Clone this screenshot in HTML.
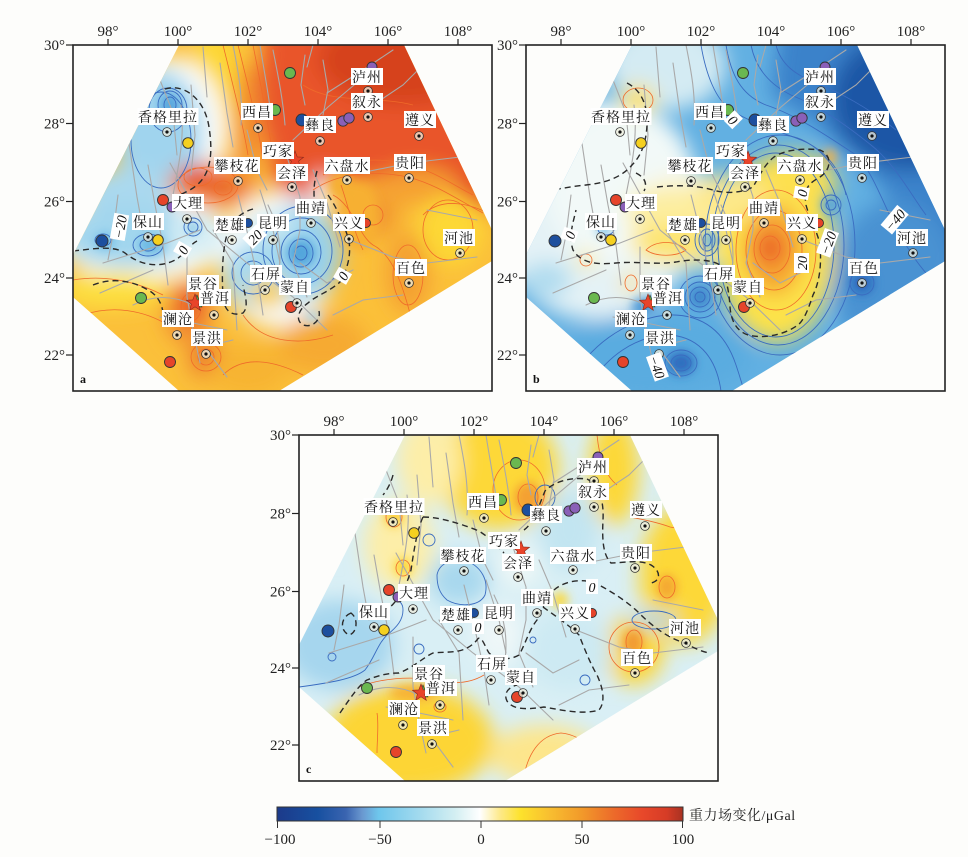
<!DOCTYPE html>
<html><head><meta charset="utf-8">
<style>
html,body{margin:0;padding:0;background:#fdfdfb;}
svg{display:block;}
.tk{font-family:"Liberation Serif","Noto Serif CJK SC",serif;font-size:15px;fill:#222;}
.lt{font-family:"Liberation Serif","Noto Serif CJK SC",serif;font-size:14px;fill:#111;letter-spacing:1px;}
.cl{font-family:"Liberation Serif",serif;font-size:14px;fill:#111;font-style:italic;}
.pl{font-family:"Liberation Serif",serif;font-size:12px;font-weight:bold;fill:#111;}
.dz{fill:none;stroke:#2a2a2a;stroke-width:1.4;stroke-dasharray:6 4;}
.oc{fill:none;stroke:#ef6a2a;stroke-width:0.8;}
.bc{fill:none;stroke:#3a6cc0;stroke-width:0.9;}
</style></head>
<body>
<svg width="968" height="857" viewBox="0 0 968 857" xmlns="http://www.w3.org/2000/svg">
<defs>
<clipPath id="cp"><polygon points="106,0 331,0 419,185 419,216 206,346 106,346 0,252 0,210"/></clipPath>
<filter id="b1" filterUnits="userSpaceOnUse" x="-80" y="-80" width="580" height="510"><feGaussianBlur stdDeviation="10"/></filter>
<filter id="b2" filterUnits="userSpaceOnUse" x="-80" y="-80" width="580" height="510"><feGaussianBlur stdDeviation="5"/></filter>
<linearGradient id="cb" x1="0" x2="1" y1="0" y2="0">
<stop offset="0" stop-color="#1c3a8a"/>
<stop offset="0.10" stop-color="#1750a0"/>
<stop offset="0.17" stop-color="#3a64b0"/>
<stop offset="0.21" stop-color="#6a98d0"/>
<stop offset="0.25" stop-color="#6ec6ec"/>
<stop offset="0.35" stop-color="#a2daee"/>
<stop offset="0.44" stop-color="#d4eff2"/>
<stop offset="0.50" stop-color="#ffffff"/>
<stop offset="0.55" stop-color="#fde988"/>
<stop offset="0.60" stop-color="#fde22c"/>
<stop offset="0.67" stop-color="#f8bf30"/>
<stop offset="0.75" stop-color="#f29a2a"/>
<stop offset="0.83" stop-color="#ec6a2a"/>
<stop offset="0.90" stop-color="#e8482a"/>
<stop offset="0.96" stop-color="#d63c26"/>
<stop offset="1" stop-color="#a83222"/>
</linearGradient>
<g id="faults" fill="none" stroke="#a9a9a9" stroke-width="1.1" stroke-linecap="round">
<path d="M187,0 C190,20 195,45 198,70"/>
<path d="M200,5 C205,30 210,55 212,80"/>
<path d="M232,10 L228,40 L232,60"/>
<path d="M250,15 L255,45 L250,70"/>
<path d="M254,48 L290,25 L320,5"/>
<path d="M220,95 L255,62 L287,35"/>
<path d="M130,2 L134,52"/>
<path d="M147,18 L154,68 L160,102"/>
<path d="M174,85 L184,125 L194,145"/>
<path d="M87,35 L100,68 L104,110"/>
<path d="M97,118 L134,185 L174,218 L220,252 L254,285"/>
<path d="M54,85 L64,152 L70,185"/>
<path d="M30,218 L94,198 L127,185"/>
<path d="M27,248 L80,225"/>
<path d="M114,202 L114,252 L120,285 L127,318"/>
<path d="M140,185 L160,218 L164,285"/>
<path d="M187,145 L200,185 L207,218"/>
<path d="M214,112 L227,152 L227,185 L220,218 L234,252"/>
<path d="M240,125 L254,158 L267,202"/>
<path d="M287,128 L337,118 L387,112 L417,105"/>
<path d="M277,195 L320,212 L354,218 L404,212"/>
<path d="M354,165 L404,175"/>
<path d="M227,218 L254,238 L280,225"/>
<path d="M87,272 L120,278 L154,285"/>
<path d="M120,292 L147,298 L160,295"/>
<path d="M134,305 L154,332"/>
<path d="M234,22 L240,0"/>
<path d="M118,40 L122,90 L118,130"/>
<path d="M75,120 L82,160 L90,200 L95,240"/>
<path d="M165,150 L175,190 L185,235 L190,270"/>
<path d="M300,60 L330,40 L350,20"/>
<path d="M260,270 L290,255 L330,250"/>
<path d="M160,0 C165,25 170,50 168,80"/>
<path d="M108,60 C112,90 106,120 100,150"/>
<path d="M45,150 L40,190 L35,215"/>
<path d="M195,160 C205,180 210,205 205,230"/>
<path d="M60,260 C80,250 100,250 120,260"/>
</g>
<g id="star"><polygon points="0,-9 2.23,-3.07 8.56,-2.78 3.61,1.17 5.29,7.28 0,3.8 -5.29,7.28 -3.61,1.17 -8.56,-2.78 -2.23,-3.07" fill="#e8442a" stroke="#8a2a1a" stroke-width="0.6"/></g>
<g id="stn"><circle r="4.4" fill="#eeeede" fill-opacity="0.75" stroke="#333" stroke-width="0.8"/><circle r="1.6" fill="#111"/></g>
<g id="marks">
<g stroke="#333" stroke-width="0.9">
<circle cx="217" cy="28" r="5.5" fill="#6ab850"/>
<circle cx="202" cy="65" r="5.5" fill="#6ab850"/>
<circle cx="229" cy="75" r="6" fill="#1d4f9e"/>
<circle cx="270" cy="76" r="5.2" fill="#8a60b8"/>
<circle cx="276" cy="73" r="5.2" fill="#8a60b8"/>
<circle cx="299" cy="22" r="5" fill="#8a60b8"/>
<circle cx="115" cy="98" r="5.3" fill="#f5d020"/>
<circle cx="90" cy="155" r="5.5" fill="#e6442a"/>
<circle cx="99" cy="162" r="5" fill="#8a60b8"/>
<circle cx="85" cy="195" r="5.3" fill="#f5d020"/>
<circle cx="29" cy="196" r="6" fill="#1d4f9e"/>
<circle cx="68" cy="253" r="5.5" fill="#6ab850"/>
<circle cx="218" cy="262" r="5.5" fill="#e6442a"/>
<circle cx="97" cy="317" r="5.5" fill="#e6442a"/>
<circle cx="175" cy="178" r="4.5" fill="#1d4f9e"/>
<circle cx="293" cy="178" r="4.5" fill="#e6442a"/>
</g>
<use href="#stn" x="295" y="46"/><use href="#stn" x="295" y="72"/><use href="#stn" x="346" y="91"/>
<use href="#stn" x="185" y="83"/><use href="#stn" x="247" y="96"/><use href="#stn" x="94" y="87"/>
<use href="#stn" x="219" y="142"/><use href="#stn" x="165" y="136"/><use href="#stn" x="274" y="135"/>
<use href="#stn" x="336" y="133"/><use href="#stn" x="114" y="174"/><use href="#stn" x="75" y="192"/>
<use href="#stn" x="159" y="195"/><use href="#stn" x="200" y="195"/><use href="#stn" x="238" y="178"/>
<use href="#stn" x="276" y="194"/><use href="#stn" x="387" y="208"/><use href="#stn" x="192" y="245"/>
<use href="#stn" x="224" y="258"/><use href="#stn" x="336" y="238"/><use href="#stn" x="141" y="270"/>
<use href="#stn" x="104" y="290"/><use href="#stn" x="133" y="309"/>
<polygon points="118,262 124,250 129,262" fill="#5aa845" stroke="#333" stroke-width="0.6"/>
<use href="#star" x="222" y="115"/>
<use href="#star" x="122" y="258"/>
</g>
<g id="lbg" fill="#ffffff">
<rect x="278" y="23" width="32" height="17"/><rect x="278" y="48" width="32" height="17"/>
<rect x="331" y="66" width="32" height="17"/><rect x="168" y="58" width="32" height="17"/>
<rect x="231" y="71" width="32" height="17"/><rect x="64.5" y="63" width="61" height="17"/>
<rect x="189" y="97" width="32" height="17"/><rect x="203" y="119" width="32" height="17"/>
<rect x="141" y="112" width="46" height="17"/><rect x="251" y="112" width="46" height="17"/>
<rect x="321" y="109" width="32" height="17"/><rect x="99" y="149" width="32" height="17"/>
<rect x="59" y="168" width="32" height="17"/><rect x="141" y="171" width="32" height="17"/>
<rect x="184" y="169" width="32" height="17"/><rect x="222" y="154" width="32" height="17"/>
<rect x="260" y="169" width="32" height="17"/><rect x="370" y="184" width="32" height="17"/>
<rect x="177" y="220" width="32" height="17"/><rect x="206" y="233" width="32" height="17"/>
<rect x="322" y="214" width="32" height="17"/><rect x="114" y="230" width="32" height="17"/>
<rect x="126" y="244" width="32" height="17"/><rect x="89" y="265" width="32" height="17"/>
<rect x="118" y="284" width="32" height="17"/>
</g>
<g id="axes">
<rect x="0" y="0" width="419" height="346" fill="none" stroke="#222" stroke-width="1.6"/>
<g stroke="#222" stroke-width="1.2">
<line x1="35" y1="0" x2="35" y2="-6"/><line x1="105" y1="0" x2="105" y2="-6"/><line x1="175" y1="0" x2="175" y2="-6"/>
<line x1="245" y1="0" x2="245" y2="-6"/><line x1="315" y1="0" x2="315" y2="-6"/><line x1="385" y1="0" x2="385" y2="-6"/>
<line x1="0" y1="0" x2="-7" y2="0"/><line x1="0" y1="78.5" x2="-7" y2="78.5"/><line x1="0" y1="156.5" x2="-7" y2="156.5"/>
<line x1="0" y1="233" x2="-7" y2="233"/><line x1="0" y1="310" x2="-7" y2="310"/>
</g>
</g>
</defs>

<!-- ================= PANEL A ================= -->
<g transform="translate(73,45)">
<g clip-path="url(#cp)">
<rect x="-10" y="-10" width="440" height="370" fill="#fbc03a"/>
<g filter="url(#b1)">
<polygon points="192,-30 450,-30 450,178 400,160 360,140 320,130 285,135 255,140 240,170 210,172 198,120 186,50" fill="#e9552b"/>
<ellipse cx="330" cy="15" rx="85" ry="45" fill="#d6431f"/>
<ellipse cx="228" cy="150" rx="20" ry="22" fill="#e8552a"/>
<ellipse cx="140" cy="45" rx="24" ry="70" fill="#fdd835"/>
<ellipse cx="176" cy="70" rx="14" ry="55" fill="#f28a2e"/>
<ellipse cx="98" cy="90" rx="55" ry="78" fill="#fbfdfd"/>
<ellipse cx="86" cy="88" rx="44" ry="64" fill="#a0d4ee"/>
<ellipse cx="70" cy="192" rx="88" ry="44" fill="#f6fbfc"/>
<ellipse cx="55" cy="150" rx="45" ry="28" fill="#aad9ef"/>
<ellipse cx="55" cy="190" rx="68" ry="32" fill="#a2d6ee"/>
<ellipse cx="125" cy="190" rx="30" ry="22" fill="#d6eef5"/>
<ellipse cx="205" cy="215" rx="58" ry="68" fill="#f8fcfd"/>
<ellipse cx="249" cy="152" rx="8" ry="24" fill="#f8fcfd"/>
<ellipse cx="226" cy="208" rx="42" ry="48" fill="#98d2ee"/>
<ellipse cx="183" cy="230" rx="32" ry="34" fill="#a6d9ef"/>
<ellipse cx="200" cy="182" rx="25" ry="14" fill="#c8e8f2"/>
<ellipse cx="300" cy="165" rx="32" ry="30" fill="#f6a830"/>
<ellipse cx="345" cy="140" rx="40" ry="18" fill="#f5a030"/>
<ellipse cx="140" cy="140" rx="45" ry="22" fill="#f28a2e"/>
<ellipse cx="124" cy="132" rx="20" ry="13" fill="#e6502a"/>
<ellipse cx="152" cy="144" rx="13" ry="11" fill="#e8582a"/>
<ellipse cx="115" cy="268" rx="24" ry="32" fill="#f29030"/>
<ellipse cx="118" cy="260" rx="14" ry="18" fill="#e8542a"/>
<ellipse cx="135" cy="315" rx="22" ry="22" fill="#f29a30"/>
<ellipse cx="133" cy="312" rx="10" ry="10" fill="#e6502a"/>
<ellipse cx="300" cy="170" rx="14" ry="14" fill="#ee8530"/>
<ellipse cx="378" cy="185" rx="32" ry="35" fill="#fdd835"/>
<ellipse cx="335" cy="228" rx="22" ry="40" fill="#f4a030"/>
<ellipse cx="250" cy="300" rx="45" ry="30" fill="#f6aa30"/>
<ellipse cx="175" cy="325" rx="40" ry="25" fill="#f7b430"/>
<ellipse cx="40" cy="245" rx="55" ry="18" fill="#fde040"/>
<ellipse cx="195" cy="248" rx="18" ry="16" fill="#fcd040"/>
</g>
<g filter="url(#b2)">
<ellipse cx="97" cy="60" rx="11" ry="13" fill="#5aa8de"/>
<ellipse cx="78" cy="200" rx="13" ry="10" fill="#6cb9e4"/>
<ellipse cx="32" cy="196" rx="10" ry="8" fill="#72bde6"/>
<ellipse cx="228" cy="208" rx="14" ry="14" fill="#52a6dc"/>
<ellipse cx="120" cy="183" rx="6" ry="6" fill="#7cc2e6"/>
<ellipse cx="240" cy="272" rx="8" ry="6" fill="#b0dcef"/>
<ellipse cx="287" cy="172" rx="20" ry="34" fill="#f7b030"/>
<ellipse cx="268" cy="140" rx="12" ry="14" fill="#f6b030"/>
</g>
<g class="oc">
<path d="M150,0 C160,40 170,80 175,110"/><path d="M165,0 C175,40 185,80 190,115"/><path d="M180,0 C188,40 195,80 200,110"/>
<path d="M250,130 C270,115 300,112 330,118 C360,125 380,140 400,150"/>
<path d="M240,145 C265,128 300,125 335,132 C365,140 385,155 410,168"/>
<ellipse cx="125" cy="132" rx="14" ry="9"/><ellipse cx="150" cy="143" rx="9" ry="7"/><ellipse cx="135" cy="140" rx="30" ry="18"/>
<path d="M260,150 C280,160 285,190 300,200 C320,210 330,240 340,280"/>
<path d="M268,140 C275,160 280,185 290,205"/>
<ellipse cx="300" cy="170" rx="10" ry="10"/><ellipse cx="375" cy="185" rx="25" ry="30"/><ellipse cx="335" cy="230" rx="15" ry="30"/>
<path d="M170,270 C190,300 230,300 260,290"/><path d="M150,330 C170,310 200,315 230,330"/>
<ellipse cx="133" cy="312" rx="8" ry="8"/><ellipse cx="133" cy="312" rx="15" ry="14"/>
<path d="M0,235 C30,230 60,235 90,250"/><path d="M10,270 C40,260 70,265 95,280"/>
<ellipse cx="118" cy="262" rx="10" ry="14"/>
<path d="M230,40 C260,60 300,50 340,60"/><path d="M350,170 C370,150 400,160 419,170"/>
</g>
<g class="bc">
<ellipse cx="97" cy="60" rx="6" ry="8"/><ellipse cx="97" cy="60" rx="12" ry="14"/><ellipse cx="95" cy="65" rx="19" ry="22"/>
<ellipse cx="88" cy="95" rx="30" ry="48"/>
<ellipse cx="75" cy="200" rx="8" ry="6"/><ellipse cx="75" cy="200" rx="15" ry="11"/><ellipse cx="30" cy="195" rx="8" ry="6"/>
<ellipse cx="228" cy="208" rx="6" ry="7"/><ellipse cx="228" cy="208" rx="12" ry="14"/><ellipse cx="228" cy="207" rx="20" ry="22"/>
<ellipse cx="229" cy="206" rx="30" ry="33"/><ellipse cx="230" cy="205" rx="40" ry="44"/>
<ellipse cx="180" cy="228" rx="12" ry="12"/><ellipse cx="180" cy="228" rx="21" ry="21"/>
<ellipse cx="120" cy="182" rx="5" ry="5"/><ellipse cx="120" cy="182" rx="9" ry="9"/>
</g>
<use href="#faults"/>
<path class="dz" d="M92,44 C112,38 132,55 136,82 C140,108 138,128 124,140 C112,150 104,148 98,158"/>
<path class="dz" d="M0,206 C20,204 40,200 52,208 C64,218 82,224 100,216 C110,212 116,200 124,196"/>
<path class="dz" d="M180,164 C165,168 155,180 152,198 C149,215 149,235 150,252 C151,265 158,272 170,268 C176,262 172,250 170,240"/>
<path class="dz" d="M244,126 C240,140 240,155 244,170"/>
<path class="dz" d="M255,150 C262,160 270,175 276,196 C278,210 275,222 268,236 C258,246 244,250 235,258 C225,265 222,275 230,280 C240,283 248,275 246,266"/>
<path class="dz" d="M20,240 C40,232 60,236 75,245 C85,250 92,262 90,278"/>
</g>
<use href="#marks"/>
<use href="#lbg"/>
<g class="lt" text-anchor="middle">
<text x="294" y="37">泸州</text><text x="294" y="62">叙永</text><text x="347" y="80">遵义</text>
<text x="184" y="72">西昌</text><text x="247" y="85">彝良</text><text x="95" y="77">香格里拉</text>
<text x="205" y="111">巧家</text><text x="219" y="133">会泽</text><text x="164" y="126">攀枝花</text>
<text x="274" y="126">六盘水</text><text x="337" y="123">贵阳</text><text x="115" y="163">大理</text>
<text x="75" y="182">保山</text><text x="157" y="185">楚雄</text><text x="200" y="183">昆明</text>
<text x="238" y="168">曲靖</text><text x="276" y="183">兴义</text><text x="386" y="198">河池</text>
<text x="193" y="234">石屏</text><text x="222" y="247">蒙自</text><text x="338" y="228">百色</text>
<text x="130" y="244">景谷</text><text x="142" y="258">普洱</text><text x="105" y="279">澜沧</text>
<text x="134" y="298">景洪</text>
</g>
<g transform="translate(47,182) rotate(-80)"><rect x="-13" y="-8" width="26" height="15" fill="#fff"/><text class="cl" x="0" y="5" text-anchor="middle">−20</text></g>
<g transform="translate(110,205) rotate(-60)"><rect x="-6" y="-8" width="12" height="15" fill="#fff"/><text class="cl" x="0" y="5" text-anchor="middle">0</text></g>
<g transform="translate(182,192) rotate(-45)"><rect x="-10" y="-8" width="20" height="15" fill="#fff"/><text class="cl" x="0" y="5" text-anchor="middle">20</text></g>
<g transform="translate(270,231) rotate(-60)"><rect x="-6" y="-8" width="12" height="15" fill="#fff"/><text class="cl" x="0" y="5" text-anchor="middle">0</text></g>
<use href="#axes"/>
<g class="tk" text-anchor="middle">
<text x="35" y="-9">98°</text><text x="105" y="-9">100°</text><text x="175" y="-9">102°</text>
<text x="245" y="-9">104°</text><text x="315" y="-9">106°</text><text x="385" y="-9">108°</text>
</g>
<g class="tk" text-anchor="end">
<text x="-8" y="5">30°</text><text x="-8" y="83.5">28°</text><text x="-8" y="161.5">26°</text>
<text x="-8" y="238">24°</text><text x="-8" y="315">22°</text>
</g>
<text class="pl" x="7" y="338">a</text>
</g>

<!-- ================= PANEL B ================= -->
<g transform="translate(526,45)">
<g clip-path="url(#cp)">
<rect x="-10" y="-10" width="440" height="370" fill="#62b0e2"/>
<g filter="url(#b1)">
<polygon points="255,-30 450,-30 450,230 385,175 335,120 290,80 245,50" fill="#3a82ca"/>
<ellipse cx="385" cy="55" rx="80" ry="70" fill="#1f56a6"/>
<ellipse cx="420" cy="10" rx="45" ry="45" fill="#1a4896"/>
<ellipse cx="370" cy="235" rx="62" ry="80" fill="#4a92d2"/>
<ellipse cx="140" cy="20" rx="60" ry="45" fill="#d4ebf3"/>
<ellipse cx="70" cy="165" rx="105" ry="110" fill="#e4f2f6"/>
<ellipse cx="95" cy="140" rx="75" ry="80" fill="#f2f9f8"/>
<ellipse cx="160" cy="175" rx="60" ry="48" fill="#f8f6e0"/>
<ellipse cx="150" cy="165" rx="50" ry="22" fill="#fdeea0"/>
<ellipse cx="150" cy="198" rx="45" ry="20" fill="#fde470"/>
<ellipse cx="250" cy="205" rx="58" ry="92" fill="#fde24a"/>
<ellipse cx="265" cy="138" rx="45" ry="30" fill="#fde050"/>
<ellipse cx="205" cy="152" rx="38" ry="22" fill="#fde88a"/>
<ellipse cx="248" cy="205" rx="30" ry="45" fill="#f6a832"/>
<ellipse cx="244" cy="203" rx="16" ry="18" fill="#ec622c"/>
<ellipse cx="130" cy="310" rx="95" ry="42" fill="#5aace0"/>
<ellipse cx="112" cy="55" rx="18" ry="14" fill="#fde04a"/>
<ellipse cx="60" cy="215" rx="10" ry="8" fill="#fde880"/>
<ellipse cx="105" cy="238" rx="9" ry="10" fill="#fde070"/>
<ellipse cx="20" cy="235" rx="25" ry="18" fill="#b0dcef"/>
</g>
<g filter="url(#b2)">
<ellipse cx="155" cy="318" rx="14" ry="12" fill="#2f6fbf"/>
<ellipse cx="174" cy="252" rx="11" ry="11" fill="#3f88cc"/>
<ellipse cx="336" cy="238" rx="12" ry="12" fill="#2f70c0"/>
<ellipse cx="305" cy="160" rx="9" ry="9" fill="#5aa6dc"/>
<ellipse cx="118" cy="262" rx="12" ry="9" fill="#4a96d6"/>
<ellipse cx="184" cy="195" rx="7" ry="10" fill="#6ab4e2"/>
<ellipse cx="78" cy="185" rx="8" ry="6" fill="#80c4e8"/>
<ellipse cx="304" cy="112" rx="6" ry="8" fill="#f6b040"/>
</g>
<g class="bc">
<path d="M200,0 C205,30 215,50 240,60 C270,70 300,90 330,110 C350,130 360,170 380,200 C395,225 410,240 419,245"/>
<path d="M225,0 C230,25 245,40 265,50 C295,62 320,80 345,100 C370,120 385,150 400,170"/>
<path d="M250,0 C255,20 270,30 290,38 C320,50 345,65 370,85"/>
<path d="M175,0 C180,30 190,55 205,65 C225,78 250,85 275,95 C300,105 315,125 320,150"/>
<ellipse cx="250" cy="200" rx="58" ry="92"/><ellipse cx="252" cy="200" rx="66" ry="100"/><ellipse cx="254" cy="200" rx="75" ry="110"/>
<ellipse cx="155" cy="318" rx="5" ry="4"/><ellipse cx="155" cy="318" rx="10" ry="8"/><ellipse cx="155" cy="318" rx="16" ry="13"/>
<ellipse cx="174" cy="252" rx="5" ry="5"/><ellipse cx="174" cy="252" rx="10" ry="10"/><ellipse cx="174" cy="252" rx="15" ry="15"/><ellipse cx="174" cy="252" rx="21" ry="21"/>
<ellipse cx="305" cy="160" rx="5" ry="5"/><ellipse cx="305" cy="160" rx="10" ry="10"/>
<ellipse cx="181" cy="195" rx="4" ry="6"/><ellipse cx="181" cy="195" rx="8" ry="11"/><ellipse cx="181" cy="195" rx="12" ry="16"/>
<ellipse cx="336" cy="238" rx="6" ry="6"/><ellipse cx="336" cy="238" rx="12" ry="12"/>
<path d="M40,346 C60,300 100,275 140,270 C180,268 200,290 210,320 C215,335 218,346 218,346"/>
<path d="M60,346 C80,310 110,292 140,290 C170,290 190,310 195,346"/>
<ellipse cx="80" cy="184" rx="8" ry="6"/>
</g>
<g class="oc">
<ellipse cx="244" cy="203" rx="10" ry="12"/><ellipse cx="246" cy="204" rx="18" ry="24"/><ellipse cx="248" cy="205" rx="28" ry="40"/>
<ellipse cx="250" cy="205" rx="40" ry="60"/>
<ellipse cx="112" cy="55" rx="15" ry="12"/>
<path d="M120,205 C130,195 150,195 160,205 C150,212 130,212 120,205 Z"/>
<ellipse cx="60" cy="215" rx="6" ry="6"/><ellipse cx="105" cy="238" rx="6" ry="8"/>
</g>
<use href="#faults"/>
<path class="dz" d="M101,38 C115,45 122,60 121,80 C120,100 114,112 106,120 C96,132 80,138 60,140 C40,142 20,146 0,152"/>
<path class="dz" d="M131,142 C150,140 170,140 187,145 C200,149 215,148 227,142 C234,130 238,120 248,112 C260,104 280,103 294,105 C306,110 306,124 294,132 C284,138 277,142 280,160 C284,175 292,188 294,200 C296,225 292,240 287,250 C282,265 278,275 272,280 C258,290 238,294 222,290 C210,286 205,275 204,262 C203,245 200,232 194,220 C185,214 165,214 150,217 C130,220 110,216 90,218 C70,220 55,218 47,205 C42,190 48,175 50,165"/>
<path class="dz" d="M110,128 C118,132 122,138 118,146"/>
</g>
<use href="#marks"/>
<use href="#lbg"/>
<g class="lt" text-anchor="middle">
<text x="294" y="37">泸州</text><text x="294" y="62">叙永</text><text x="347" y="80">遵义</text>
<text x="184" y="72">西昌</text><text x="247" y="85">彝良</text><text x="95" y="77">香格里拉</text>
<text x="205" y="111">巧家</text><text x="219" y="133">会泽</text><text x="164" y="126">攀枝花</text>
<text x="274" y="126">六盘水</text><text x="337" y="123">贵阳</text><text x="115" y="163">大理</text>
<text x="75" y="182">保山</text><text x="157" y="185">楚雄</text><text x="200" y="183">昆明</text>
<text x="238" y="168">曲靖</text><text x="276" y="183">兴义</text><text x="386" y="198">河池</text>
<text x="193" y="234">石屏</text><text x="222" y="247">蒙自</text><text x="338" y="228">百色</text>
<text x="130" y="244">景谷</text><text x="142" y="258">普洱</text><text x="105" y="279">澜沧</text>
<text x="134" y="298">景洪</text>
</g>
<g transform="translate(207,75) rotate(45)"><rect x="-6" y="-8" width="12" height="15" fill="#fff"/><text class="cl" x="0" y="5" text-anchor="middle">0</text></g>
<g transform="translate(276,148) rotate(-80)"><rect x="-6" y="-8" width="12" height="15" fill="#fff"/><text class="cl" x="0" y="5" text-anchor="middle">0</text></g>
<g transform="translate(44,190) rotate(-70)"><rect x="-6" y="-8" width="12" height="15" fill="#fff"/><text class="cl" x="0" y="5" text-anchor="middle">0</text></g>
<g transform="translate(276,218) rotate(-90)"><rect x="-10" y="-8" width="20" height="15" fill="#fff"/><text class="cl" x="0" y="5" text-anchor="middle">20</text></g>
<g transform="translate(302,198) rotate(-70)"><rect x="-13" y="-8" width="26" height="15" fill="#fff"/><text class="cl" x="0" y="5" text-anchor="middle">−20</text></g>
<g transform="translate(369,175) rotate(-50)"><rect x="-13" y="-8" width="26" height="15" fill="#fff"/><text class="cl" x="0" y="5" text-anchor="middle">−40</text></g>
<g transform="translate(131,322) rotate(70)"><rect x="-13" y="-8" width="26" height="15" fill="#fff"/><text class="cl" x="0" y="5" text-anchor="middle">−40</text></g>
<use href="#axes"/>
<g class="tk" text-anchor="middle">
<text x="35" y="-9">98°</text><text x="105" y="-9">100°</text><text x="175" y="-9">102°</text>
<text x="245" y="-9">104°</text><text x="315" y="-9">106°</text><text x="385" y="-9">108°</text>
</g>
<g class="tk" text-anchor="end">
<text x="-8" y="5">30°</text><text x="-8" y="83.5">28°</text><text x="-8" y="161.5">26°</text>
<text x="-8" y="238">24°</text><text x="-8" y="315">22°</text>
</g>
<text class="pl" x="7" y="338">b</text>
</g>

<!-- ================= PANEL C ================= -->
<g transform="translate(299,435)">
<g clip-path="url(#cp)">
<rect x="-10" y="-10" width="440" height="370" fill="#d9eff5"/>
<g filter="url(#b1)">
<ellipse cx="200" cy="35" rx="60" ry="60" fill="#fdd838"/>
<ellipse cx="130" cy="25" rx="32" ry="45" fill="#fdeea8"/>
<ellipse cx="315" cy="35" rx="25" ry="55" fill="#fdd838"/>
<ellipse cx="385" cy="140" rx="45" ry="70" fill="#fdd838"/>
<ellipse cx="100" cy="110" rx="35" ry="45" fill="#fdeea8"/>
<ellipse cx="335" cy="215" rx="30" ry="35" fill="#fdd535"/>
<ellipse cx="110" cy="305" rx="85" ry="55" fill="#fdd535"/>
<ellipse cx="245" cy="320" rx="55" ry="30" fill="#fde68c"/>
<ellipse cx="40" cy="210" rx="55" ry="45" fill="#a6d6ee"/>
<ellipse cx="160" cy="145" rx="30" ry="25" fill="#a8d8ee"/>
<ellipse cx="270" cy="95" rx="30" ry="40" fill="#c2e5f1"/>
<ellipse cx="270" cy="215" rx="45" ry="40" fill="#cdeaf3"/>
<ellipse cx="200" cy="200" rx="25" ry="30" fill="#eef7f8"/>
<ellipse cx="355" cy="185" rx="25" ry="9" fill="#a8d8ee"/>
<ellipse cx="220" cy="130" rx="20" ry="20" fill="#f0f8f6"/>
</g>
<g filter="url(#b2)">
<ellipse cx="229" cy="63" rx="14" ry="16" fill="#f4a030"/>
<ellipse cx="368" cy="152" rx="10" ry="13" fill="#f4a830"/>
<ellipse cx="334" cy="208" rx="10" ry="14" fill="#f29a30"/>
<ellipse cx="104" cy="132" rx="9" ry="10" fill="#fdd838"/>
<ellipse cx="95" cy="82" rx="10" ry="10" fill="#fcd040"/>
<ellipse cx="115" cy="258" rx="25" ry="8" fill="#f7b030"/>
<ellipse cx="261" cy="165" rx="8" ry="8" fill="#fdd838"/>
</g>
<g class="oc">
<ellipse cx="229" cy="62" rx="10" ry="13"/><ellipse cx="220" cy="55" rx="26" ry="30"/>
<path d="M298,0 C300,20 305,40 318,50"/>
<path d="M331,82 C340,84 355,86 371,92 C390,96 405,96 419,95"/>
<ellipse cx="368" cy="152" rx="8" ry="11"/>
<ellipse cx="335" cy="212" rx="25" ry="25"/><ellipse cx="335" cy="207" rx="8" ry="12"/>
<path d="M60,252 C80,244 110,240 140,246 C160,250 175,246 185,240"/>
<path d="M78,278 C80,290 78,305 78,318"/>
<path d="M224,346 C228,320 240,300 262,298 C285,300 300,320 305,335"/>
<ellipse cx="95" cy="82" rx="8" ry="10"/>
<ellipse cx="104" cy="133" rx="7" ry="8"/>
<ellipse cx="141" cy="272" rx="6" ry="5"/>
</g>
<g class="bc">
<path d="M0,252 C30,248 55,244 66,235 C76,222 78,210 88,200 C98,192 104,185 104,175 C104,168 100,165 96,166"/>
<path d="M138,140 C140,128 155,122 168,126 C182,132 190,145 186,160 C180,172 160,172 148,165 C140,158 138,150 138,140 Z"/>
<ellipse cx="355" cy="185" rx="22" ry="9"/>
<ellipse cx="246" cy="62" rx="10" ry="12"/>
<ellipse cx="107" cy="157" rx="4" ry="4"/><ellipse cx="120" cy="214" rx="5" ry="5"/>
<ellipse cx="33" cy="222" rx="4" ry="4"/><ellipse cx="286" cy="245" rx="5" ry="5"/>
<ellipse cx="234" cy="205" rx="3" ry="3"/><ellipse cx="130" cy="105" rx="6" ry="6"/>
</g>
<use href="#faults"/>
<path class="dz" d="M41,278 C52,262 60,250 68,245 C80,240 90,238 100,238 C115,232 125,222 134,218 C150,216 165,220 178,205 C182,198 186,212 190,218 C198,224 210,226 220,220 C226,210 230,195 238,185 C244,172 248,162 255,155 C265,146 285,142 300,150 C315,158 330,168 340,178 C352,190 365,200 380,206 C390,210 400,216 410,218"/>
<path class="dz" d="M124,82 C140,82 160,88 180,96 C192,104 198,110 205,118"/>
<path class="dz" d="M225,95 C235,88 240,70 246,56 C256,46 272,42 288,44 C300,50 305,65 304,85 C303,105 304,120 312,128 C325,128 340,124 352,130 C362,136 362,146 352,148"/>
<path class="dz" d="M244,172 C255,180 270,190 280,200 C286,215 292,230 298,240 C305,255 306,268 300,275 C285,280 262,275 245,272 C230,274 215,276 208,266 C204,258 210,252 218,250"/>
<path class="dz" d="M124,82 C118,95 115,115 112,135 C108,150 100,165 88,175"/>
<path class="dz" d="M94,40 C92,48 88,55 84,60"/>
<path class="dz" d="M52,178 C42,182 40,195 50,200 C58,198 60,184 52,178 Z"/>
</g>
<use href="#marks"/>
<use href="#lbg"/>
<g class="lt" text-anchor="middle">
<text x="294" y="37">泸州</text><text x="294" y="62">叙永</text><text x="347" y="80">遵义</text>
<text x="184" y="72">西昌</text><text x="247" y="85">彝良</text><text x="95" y="77">香格里拉</text>
<text x="205" y="111">巧家</text><text x="219" y="133">会泽</text><text x="164" y="126">攀枝花</text>
<text x="274" y="126">六盘水</text><text x="337" y="123">贵阳</text><text x="115" y="163">大理</text>
<text x="75" y="182">保山</text><text x="157" y="185">楚雄</text><text x="200" y="183">昆明</text>
<text x="238" y="168">曲靖</text><text x="276" y="183">兴义</text><text x="386" y="198">河池</text>
<text x="193" y="234">石屏</text><text x="222" y="247">蒙自</text><text x="338" y="228">百色</text>
<text x="130" y="244">景谷</text><text x="142" y="258">普洱</text><text x="105" y="279">澜沧</text>
<text x="134" y="298">景洪</text>
</g>
<g transform="translate(179,192)"><rect x="-6" y="-8" width="12" height="15" fill="#fff"/><text class="cl" x="0" y="5" text-anchor="middle">0</text></g>
<g transform="translate(293,152)"><rect x="-6" y="-8" width="12" height="15" fill="#fff"/><text class="cl" x="0" y="5" text-anchor="middle">0</text></g>
<use href="#axes"/>
<g class="tk" text-anchor="middle">
<text x="35" y="-9">98°</text><text x="105" y="-9">100°</text><text x="175" y="-9">102°</text>
<text x="245" y="-9">104°</text><text x="315" y="-9">106°</text><text x="385" y="-9">108°</text>
</g>
<g class="tk" text-anchor="end">
<text x="-8" y="5">30°</text><text x="-8" y="83.5">28°</text><text x="-8" y="161.5">26°</text>
<text x="-8" y="238">24°</text><text x="-8" y="315">22°</text>
</g>
<text class="pl" x="7" y="338">c</text>
</g>

<!-- ================= COLORBAR ================= -->
<rect x="277" y="807" width="406" height="14" fill="url(#cb)" stroke="#333" stroke-width="1"/>
<g stroke="#333" stroke-width="1">
<line x1="277.5" y1="821" x2="277.5" y2="828"/><line x1="380" y1="821" x2="380" y2="828"/>
<line x1="481" y1="821" x2="481" y2="828"/><line x1="582" y1="821" x2="582" y2="828"/>
<line x1="682.5" y1="821" x2="682.5" y2="828"/>
</g>
<g class="tk" text-anchor="middle">
<text x="280" y="844">−100</text><text x="380" y="844">−50</text><text x="481" y="844">0</text>
<text x="582" y="844">50</text><text x="683" y="844">100</text>
</g>
<text x="689" y="820" style="font-family:'Liberation Serif','Noto Serif CJK SC',serif;font-size:14px;fill:#222;letter-spacing:0.5px">重力场变化/μGal</text>
</svg>
</body></html>
